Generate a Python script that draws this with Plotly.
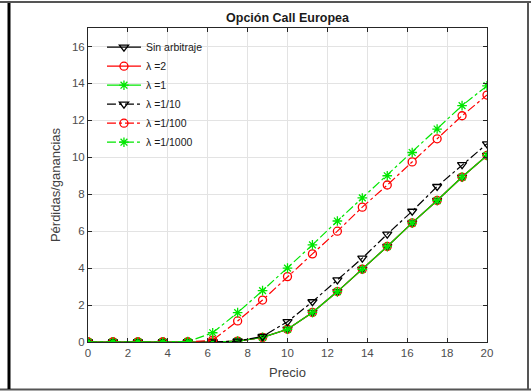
import plotly.graph_objects as go

precio = [0, 1.25, 2.5, 3.75, 5, 6.25, 7.5, 8.75, 10, 11.25, 12.5, 13.75, 15, 16.25, 17.5, 18.75, 20]
sin_arbitraje = [0, 0, 0, 0, 0, 0, 0.05, 0.25, 0.69, 1.6, 2.73, 3.94, 5.17, 6.45, 7.66, 8.93, 10.1]
lam_2 = [0, 0, 0, 0, 0, 0, 0.05, 0.25, 0.69, 1.6, 2.73, 3.94, 5.17, 6.45, 7.66, 8.93, 10.1]
lam_1 = [0, 0, 0, 0, 0, 0, 0.05, 0.25, 0.69, 1.6, 2.73, 3.94, 5.17, 6.45, 7.66, 8.93, 10.1]
lam_1_10 = [0, 0, 0, 0, 0, 0, 0.05, 0.3, 1.1, 2.18, 3.36, 4.54, 5.84, 7.08, 8.42, 9.6, 10.73]
lam_1_100 = [0, 0, 0, 0, 0, 0.1, 1.14, 2.27, 3.54, 4.77, 6.0, 7.3, 8.5, 9.75, 11.0, 12.25, 13.37]
lam_1_1000 = [0, 0, 0, 0, 0.02, 0.5, 1.59, 2.78, 4.0, 5.26, 6.55, 7.8, 9.0, 10.26, 11.53, 12.8, 13.87]

series = [
    ("Sin arbitraje", sin_arbitraje, "black", "solid", "triangle-down-open"),
    ("λ =2", lam_2, "#ff0000", "solid", "circle-open"),
    ("λ =1", lam_1, "#00e600", "solid", "asterisk-open"),
    ("λ =1/10", lam_1_10, "black", "dashdot", "triangle-down-open"),
    ("λ =1/100", lam_1_100, "#ff0000", "dashdot", "circle-open"),
    ("λ =1/1000", lam_1_1000, "#00e600", "dashdot", "asterisk-open"),
]

fig = go.Figure()
for name, y, col, dash, sym in series:
    fig.add_trace(go.Scatter(
        x=precio, y=y, name=name, mode="lines+markers",
        line=dict(color=col, width=1.2, dash=dash),
        marker=dict(symbol=sym, size=8, color=col, line=dict(color=col, width=1.3)),
    ))

L, R, T, B = 88, 487, 28, 342
W, H = R - L, B - T
def px(x): return (x - L) / W
def py(y): return (B - y) / H

shapes = [
    dict(type="line", xref="paper", yref="paper", x0=px(0), x1=px(531), y0=py(2), y1=py(2),
         line=dict(color="#555555", width=2)),
    dict(type="line", xref="paper", yref="paper", x0=px(0), x1=px(531), y0=py(389.5), y1=py(389.5),
         line=dict(color="#555555", width=2)),
    dict(type="line", xref="paper", yref="paper", x0=px(528), x1=px(528), y0=py(2), y1=py(390),
         line=dict(color="#555555", width=2)),
    dict(type="line", xref="paper", yref="paper", x0=px(9), x1=px(9), y0=py(3), y1=py(389),
         line=dict(color="black", width=3)),
]

axis_common = dict(
    showline=True, linecolor="#262626", linewidth=1, mirror="ticks",
    ticks="inside", ticklen=4, tickcolor="#262626",
    showgrid=True, gridcolor="#e3e3e3", gridwidth=1, zeroline=False,
    tickfont=dict(family="Liberation Sans, Arial", size=11.5, color="#4d4d4d"),
)

fig.update_layout(
    width=531, height=391,
    margin=dict(l=L, r=531 - R, t=T, b=391 - B),
    paper_bgcolor="white", plot_bgcolor="white",
    font=dict(family="Liberation Sans, Arial", color="#262626"),
    title=dict(text="<b>Opción Call Europea</b>", x=(L + R) / 2 / 531, xanchor="center",
               y=1 - 18 / 391, yanchor="middle", font=dict(size=12.5, color="#1a1a1a")),
    xaxis=dict(range=[0, 20], tickvals=[0, 2, 4, 6, 8, 10, 12, 14, 16, 18, 20],
               title=dict(text="Precio", font=dict(size=13, color="#404040"), standoff=10),
               **axis_common),
    yaxis=dict(range=[0, 17], tickvals=[0, 2, 4, 6, 8, 10, 12, 14, 16],
               title=dict(text="Pérdidas/ganancias", font=dict(size=13, color="#404040"), standoff=8),
               **axis_common),
    legend=dict(x=0.035, y=0.985, xanchor="left", yanchor="top", bgcolor="rgba(255,255,255,0)",
                font=dict(family="Liberation Sans, Arial", size=10.5, color="#1a1a1a"),
                tracegroupgap=0, itemwidth=34),
    shapes=shapes,
    showlegend=True,
)

fig.write_html("out.html")
